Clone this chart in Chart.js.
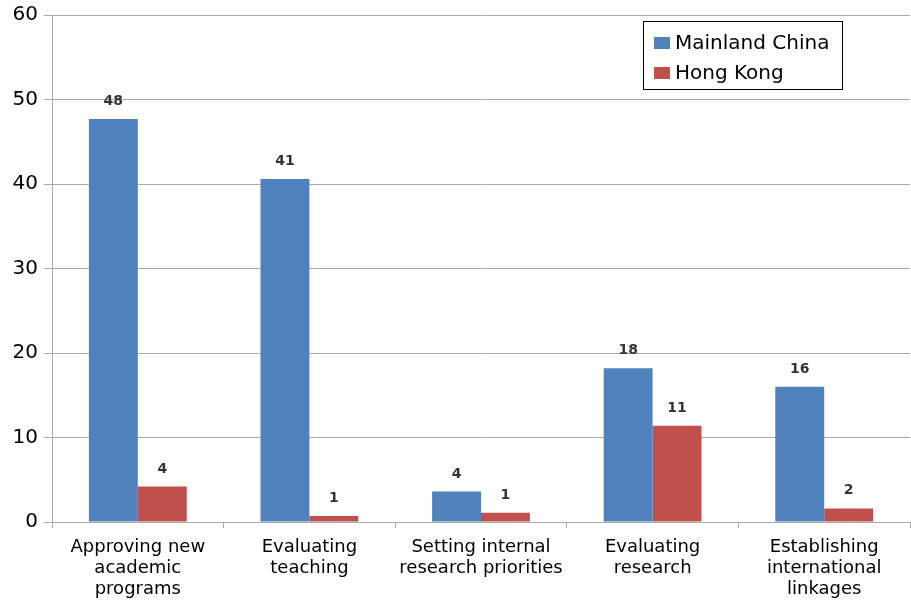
<!DOCTYPE html>
<html>
<head>
<meta charset="utf-8">
<script src="https://cdn.jsdelivr.net/npm/chart.js@4.4.1/dist/chart.umd.min.js"></script>
<style>
  html, body { margin: 0; padding: 0; background: #fff; }
  #wrap { width: 911px; height: 602px; }
</style>
</head>
<body>
<div id="wrap"><canvas id="roleChart" width="911" height="602"></canvas></div>
<script>
const categories = [
    ["Approving new", "academic", "programs"],
    ["Evaluating", "teaching"],
    ["Setting internal", "research priorities"],
    ["Evaluating", "research"],
    ["Establishing", "international", "linkages"]
];
const seriesNames = ["Mainland China", "Hong Kong"];
const mainlandValues = [47.7, 40.6, 3.6, 18.2, 16.0];
const hongKongValues = [4.2, 0.7, 1.1, 11.4, 1.6];
const yTicks = [0, 10, 20, 30, 40, 50, 60];

const blue = '#4F81BD';
const red = '#C0504D';
const gridGrey = '#aaaaaa';

// value labels above every bar, rounded to whole numbers
const valueLabels = {
    id: 'valueLabels',
    afterDatasetsDraw(chart) {
        const ctx = chart.ctx;
        ctx.save();
        ctx.font = 'bold 14px "DejaVu Sans"';
        ctx.fillStyle = '#333';
        ctx.textAlign = 'center';
        ctx.textBaseline = 'alphabetic';
        chart.data.datasets.forEach((ds, i) => {
            chart.getDatasetMeta(i).data.forEach((bar, j) => {
                ctx.fillText(String(Math.round(ds.data[j])), bar.x, bar.y - 14);
            });
        });
        ctx.restore();
    }
};

// boxed legend sitting inside the plot, top right
const boxLegend = {
    id: 'boxLegend',
    afterDraw(chart) {
        const ctx = chart.ctx;
        const area = chart.chartArea;
        const x = area.right - 267, y = 21, w = 199, h = 68;
        ctx.save();
        ctx.fillStyle = '#fff';
        ctx.fillRect(x, y, w, h);
        ctx.strokeStyle = '#000';
        ctx.lineWidth = 1;
        ctx.strokeRect(x + 0.5, y + 0.5, w, h);
        ctx.font = '20px "DejaVu Sans"';
        ctx.textBaseline = 'middle';
        chart.data.datasets.forEach((ds, i) => {
            const cy = y + 22 + i * 30;
            ctx.fillStyle = ds.backgroundColor;
            ctx.fillRect(x + 11, cy - 6, 16, 12);
            ctx.fillStyle = '#000';
            ctx.fillText(ds.label, x + 32, cy + 1);
        });
        ctx.restore();
    }
};

new Chart(document.getElementById('roleChart'), {
    type: 'bar',
    data: {
        labels: categories,
        datasets: [
            { label: seriesNames[0], data: mainlandValues, backgroundColor: blue },
            { label: seriesNames[1], data: hongKongValues, backgroundColor: red }
        ]
    },
    options: {
        responsive: false,
        animation: false,
        categoryPercentage: 0.57,
        barPercentage: 1,
        layout: { padding: { top: 12, right: 1, left: 0, bottom: 0 } },
        plugins: {
            legend: { display: false },
            tooltip: { enabled: false }
        },
        scales: {
            x: {
                afterFit(scale) { scale.height = 80; },
                grid: { drawOnChartArea: false, drawTicks: true, tickLength: 6, offset: true, color: gridGrey },
                border: { color: gridGrey },
                ticks: {
                    color: '#000',
                    padding: 9,
                    maxRotation: 0,
                    autoSkip: false,
                    font: { family: 'DejaVu Sans', size: 18, lineHeight: 1.17 }
                }
            },
            y: {
                min: 0,
                max: 60,
                afterFit(scale) { scale.width = 52; },
                afterBuildTicks(scale) { scale.ticks = yTicks.map(v => ({ value: v })); },
                grid: { color: gridGrey, tickLength: 8 },
                border: { color: gridGrey },
                ticks: {
                    color: '#000',
                    padding: 6,
                    font: { family: 'DejaVu Sans', size: 20, lineHeight: 0.9 }
                }
            }
        }
    },
    plugins: [valueLabels, boxLegend]
});
</script>
</body>
</html>
